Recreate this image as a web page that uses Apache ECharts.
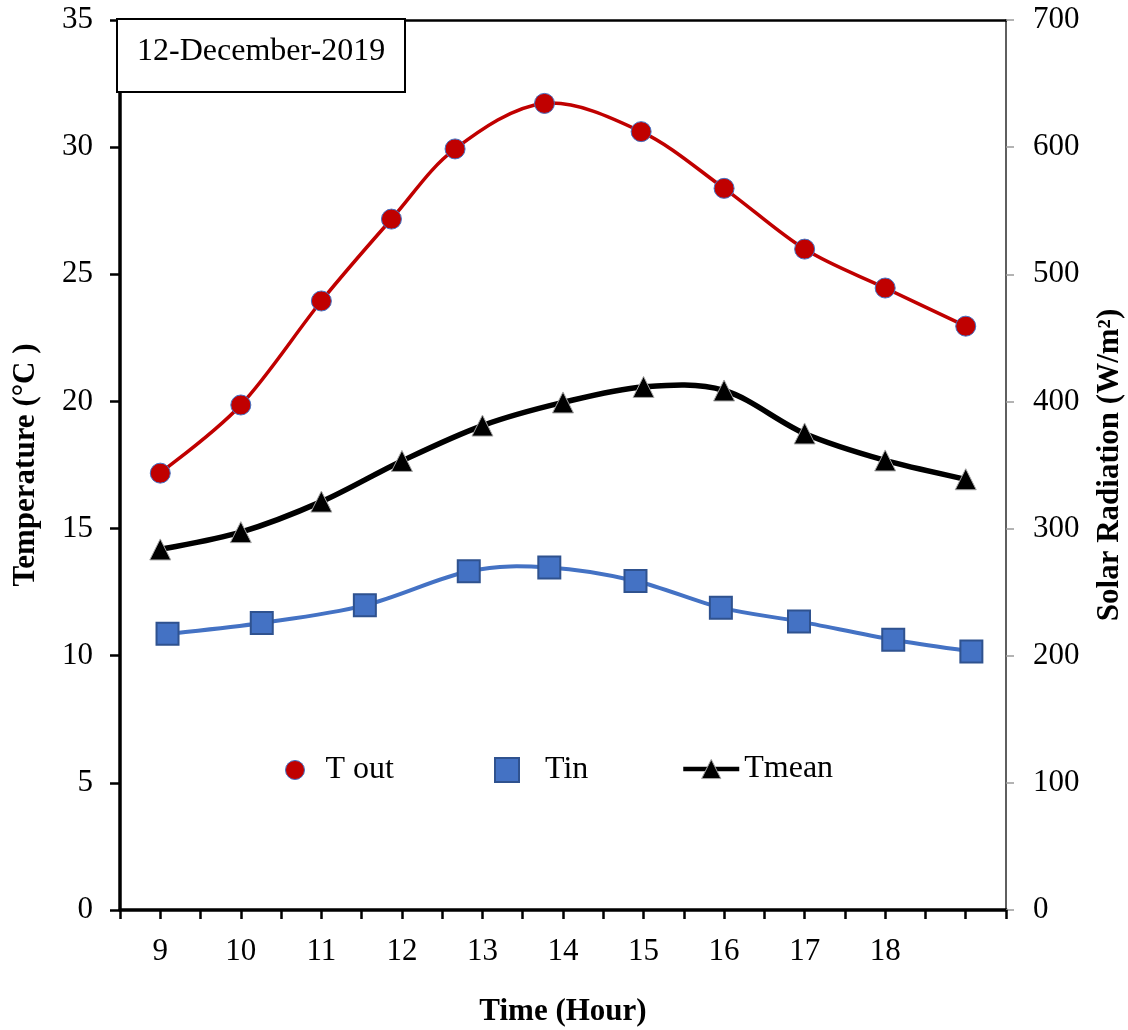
<!DOCTYPE html>
<html>
<head>
<meta charset="utf-8">
<title>Temperature and solar radiation, 12 December 2019</title>
<script src="https://cdn.jsdelivr.net/npm/echarts@6/dist/echarts.min.js"></script>
<style>
  html, body { margin: 0; padding: 0; background: #fff; }
  #chart { width: 1128px; height: 1030px; }
</style>
</head>
<body>
<div id="chart"></div>
<script>
// Hour-axis tick labels (one per whole hour from 9 to 18)
const hourTicks = [9, 10, 11, 12, 13, 14, 15, 16, 17, 18];
const hourTickLabels = ['9', '10', '11', '12', '13', '14', '15', '16', '17', '18'];

// Outdoor temperature (°C) and the times it was logged
const toutHours  = [9, 10, 11, 11.87, 12.66, 13.77, 14.97, 16, 17, 18, 19];
const toutValues = [17.18, 19.86, 23.95, 27.17, 29.93, 31.72, 30.61, 28.38, 25.99, 24.46, 22.96];

// Indoor temperature (°C) and the times it was logged
const tinHours  = [9.09, 10.26, 11.54, 12.83, 13.83, 14.90, 15.96, 16.93, 18.10, 19.07];
const tinValues = [10.86, 11.29, 11.98, 13.32, 13.47, 12.94, 11.89, 11.35, 10.63, 10.17];

// Mean temperature (°C), hourly
const tmeanHours  = [9, 10, 11, 12, 13, 14, 15, 16, 17, 18, 19];
const tmeanValues = [14.18, 14.86, 16.06, 17.66, 19.05, 19.96, 20.57, 20.43, 18.74, 17.68, 16.94];

const FONT = "'Liberation Serif', 'Times New Roman', serif";
const pairs = (xs, ys) => xs.map((x, i) => [x, ys[i]]);

// Smooth curve through the data points (cubic Bezier segments with
// Catmull-Rom tangents), positioned through the chart's own axes.
function smoothCurve(xs, ys, color, width) {
  return function (params, api) {
    if (params.dataIndex !== 0) return null;
    const pts = xs.map((x, i) => api.coord([x, ys[i]]));
    const n = pts.length;
    let d = 'M' + pts[0][0] + ',' + pts[0][1];
    for (let i = 0; i < n - 1; i++) {
      const p0 = pts[Math.max(i - 1, 0)];
      const p1 = pts[i];
      const p2 = pts[i + 1];
      const p3 = pts[Math.min(i + 2, n - 1)];
      const c1x = p1[0] + (p2[0] - p0[0]) / 6;
      const c1y = p1[1] + (p2[1] - p0[1]) / 6;
      const c2x = p2[0] - (p3[0] - p1[0]) / 6;
      const c2y = p2[1] - (p3[1] - p1[1]) / 6;
      d += ' C' + c1x + ',' + c1y + ' ' + c2x + ',' + c2y + ' ' + p2[0] + ',' + p2[1];
    }
    return {
      type: 'path',
      silent: true,
      shape: { pathData: d },
      style: { fill: null, stroke: color, lineWidth: width, lineJoin: 'round', lineCap: 'round' }
    };
  };
}

function curveSeries(name, xs, ys, color, width) {
  return {
    name: name,
    type: 'custom',
    xAxisIndex: 0,
    yAxisIndex: 0,
    coordinateSystem: 'cartesian2d',
    clip: false,
    z: 2,
    silent: true,
    encode: { x: 0, y: 1 },
    data: pairs(xs, ys),
    renderItem: smoothCurve(xs, ys, color, width)
  };
}

function markerSeries(name, xs, ys, symbol, size, itemStyle) {
  return {
    name: name,
    type: 'line',
    xAxisIndex: 0,
    yAxisIndex: 0,
    data: pairs(xs, ys),
    symbol: symbol,
    symbolSize: size,
    showAllSymbol: true,
    itemStyle: itemStyle,
    lineStyle: { width: 0, opacity: 0 },
    z: 3
  };
}

const chart = echarts.init(document.getElementById('chart'), null, { renderer: 'canvas' });

chart.setOption({
  animation: false,
  backgroundColor: '#fff',
  textStyle: { fontFamily: FONT, color: '#000' },
  title: {
    text: '12-December-2019',
    left: 117,
    top: 19,
    padding: [17, 20, 24, 20],
    borderWidth: 2,
    borderColor: '#000',
    backgroundColor: '#fff',
    textStyle: { fontFamily: FONT, fontSize: 32, fontWeight: 'normal', color: '#000', lineHeight: 32 }
  },
  grid: { left: 120, right: 122, top: 20, bottom: 120, containLabel: false, outerBoundsMode: 'none' },
  xAxis: [
    {
      type: 'value',
      position: 'bottom',
      min: 8.5,
      max: 19.5,
      interval: 0.5,
      name: 'Time (Hour)',
      nameLocation: 'middle',
      nameGap: 86,
      nameTextStyle: { fontFamily: FONT, fontSize: 31, fontWeight: 'bold', color: '#000' },
      axisLine: { onZero: false, lineStyle: { color: '#000', width: 3.5 } },
      axisTick: { show: true, inside: false, length: 9, lineStyle: { color: '#000', width: 2.5 } },
      axisLabel: {
        margin: 26,
        fontFamily: FONT,
        fontSize: 31,
        color: '#000',
        showMinLabel: true,
        showMaxLabel: true,
        formatter: v => {
          const i = hourTicks.indexOf(v);
          return i >= 0 ? hourTickLabels[i] : '';
        }
      },
      splitLine: { show: false }
    },
    {
      // top frame line of the plot
      type: 'value',
      position: 'top',
      min: 8.5,
      max: 19.5,
      interval: 0.5,
      axisLine: { onZero: false, lineStyle: { color: '#000', width: 2.5 } },
      axisTick: { show: false },
      axisLabel: { show: false },
      splitLine: { show: false }
    }
  ],
  yAxis: [
    {
      type: 'value',
      position: 'left',
      min: 0,
      max: 35,
      interval: 5,
      name: 'Temperature (°C )',
      nameLocation: 'middle',
      nameGap: 79,
      nameTextStyle: { fontFamily: FONT, fontSize: 31, fontWeight: 'bold', color: '#000' },
      axisLine: { show: true, onZero: false, lineStyle: { color: '#000', width: 3.5 } },
      axisTick: { show: true, inside: false, length: 10, lineStyle: { color: '#000', width: 2.5 } },
      axisLabel: { margin: 27, fontFamily: FONT, fontSize: 31, color: '#000', showMinLabel: true, showMaxLabel: true },
      splitLine: { show: false }
    },
    {
      type: 'value',
      position: 'right',
      min: 0,
      max: 700,
      interval: 100,
      name: 'Solar Radiation (W/m²)',
      nameLocation: 'middle',
      nameGap: 88,
      nameTextStyle: { fontFamily: FONT, fontSize: 31, fontWeight: 'bold', color: '#000' },
      axisLine: { show: true, onZero: false, lineStyle: { color: '#5f5f5f', width: 2 } },
      axisTick: { show: true, inside: false, length: 8, lineStyle: { color: '#9a9a9a', width: 1.5 } },
      axisLabel: { margin: 27, fontFamily: FONT, fontSize: 31, color: '#000', showMinLabel: true, showMaxLabel: true },
      splitLine: { show: false }
    }
  ],
  legend: [
    {
      selectedMode: false,
      left: 285,
      top: 754,
      padding: 0,
      itemWidth: 19,
      itemHeight: 19,
      data: [{
        name: 'T out',
        icon: 'circle',
        itemStyle: { color: '#C00000', borderColor: '#4472C4', borderWidth: 1 }
      }],
      textStyle: { fontFamily: FONT, fontSize: 32, color: '#000', padding: [0, 0, 0, 16] }
    },
    {
      selectedMode: false,
      left: 494,
      top: 754,
      padding: 0,
      itemWidth: 24,
      itemHeight: 24,
      data: [{
        name: 'Tin',
        icon: 'rect',
        itemStyle: { color: '#4472C4', borderColor: '#2F528F', borderWidth: 2 }
      }],
      textStyle: { fontFamily: FONT, fontSize: 32, color: '#000', padding: [0, 0, 0, 21] }
    },
    {
      selectedMode: false,
      left: 681,
      top: 753,
      padding: 0,
      itemWidth: 56,
      itemHeight: 24,
      data: [{
        name: 'Tmean',
        itemStyle: { color: '#000', borderColor: '#A6A6A6', borderWidth: 1 },
        lineStyle: { color: '#000', width: 4.5, opacity: 1 }
      }],
      textStyle: { fontFamily: FONT, fontSize: 32, color: '#000' }
    }
  ],
  series: [
    curveSeries('T out curve', toutHours, toutValues, '#C00000', 3.5),
    curveSeries('Tin curve', tinHours, tinValues, '#4472C4', 4),
    curveSeries('Tmean curve', tmeanHours, tmeanValues, '#000', 5.5),
    markerSeries('T out', toutHours, toutValues, 'circle', 20,
      { color: '#C00000', borderColor: '#4472C4', borderWidth: 1 }),
    markerSeries('Tin', tinHours, tinValues, 'rect', 22,
      { color: '#4472C4', borderColor: '#2F528F', borderWidth: 2 }),
    markerSeries('Tmean', tmeanHours, tmeanValues, 'triangle', 21,
      { color: '#000', borderColor: '#A6A6A6', borderWidth: 1 })
  ]
});
</script>
</body>
</html>
